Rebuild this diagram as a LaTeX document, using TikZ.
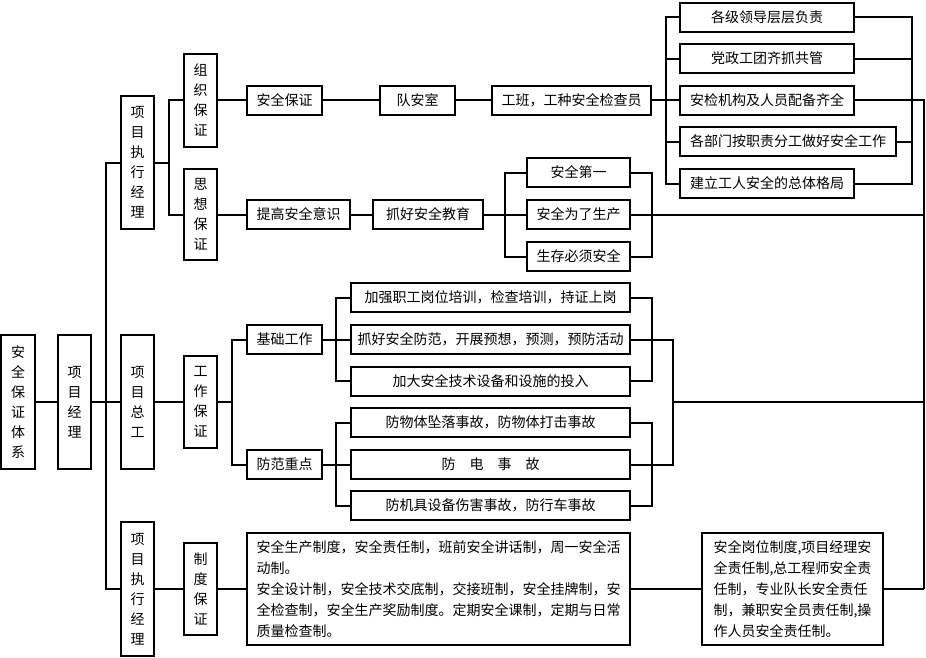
\documentclass[tikz,border=0pt]{standalone}
\usepackage{fontspec}
\setmainfont{Noto Sans CJK SC}
\begin{document}
\begin{tikzpicture}[x=1pt,y=-1pt,line width=2pt,
  every node/.style={draw,line width=2pt,inner sep=0pt,font=\fontsize{14}{20}\selectfont},
  hbox/.style={minimum height=29},
  vbox/.style={minimum width=33,align=center},
  tbox/.style={align=left,font=\fontsize{14}{21}\selectfont}]
\useasboundingbox (0,0) rectangle (926,657);
% left column
\node[vbox,minimum width=34,minimum height=134] (sys) at (18,402) {安\\全\\保\\证\\体\\系};
\node[vbox,minimum height=134] (pm) at (74.5,402) {项\\目\\经\\理};
\node[vbox,minimum height=133] (ce1) at (137.5,162.5) {项\\目\\执\\行\\经\\理};
\node[vbox,minimum height=134] (ce2) at (137.5,402) {项\\目\\总\\工};
\node[vbox,minimum height=134] (ce3) at (137.5,589) {项\\目\\执\\行\\经\\理};
\node[vbox,minimum height=93] (zz) at (200.5,100) {组\\织\\保\\证};
\node[vbox,minimum height=91] (sx) at (200.5,214.5) {思\\想\\保\\证};
\node[vbox,minimum height=92] (gz) at (200.5,402) {工\\作\\保\\证};
\node[vbox,minimum height=92] (zd) at (200.5,589) {制\\度\\保\\证};
% organisation row
\node[hbox,minimum width=75] (aqbz) at (284.5,100) {安全保证};
\node[hbox,minimum width=75] (das) at (417.5,100) {队安室};
\node[hbox,minimum width=159] (gb) at (571.5,100) {工班，工种安全检查员};
\node[hbox,minimum width=174] (r1) at (767,17) {各级领导层层负责};
\node[hbox,minimum width=174] (r2) at (767,58.5) {党政工团齐抓共管};
\node[hbox,minimum width=174] (r3) at (767,100) {安检机构及人员配备齐全};
\node[hbox,minimum width=216] (r4) at (788,141.5) {各部门按职责分工做好安全工作};
\node[hbox,minimum width=174] (r5) at (767,183.5) {建立工人安全的总体格局};
% thought row
\node[hbox,minimum width=103] (tg) at (298.5,214.5) {提高安全意识};
\node[hbox,minimum width=110] (jy) at (428,214.5) {抓好安全教育};
\node[hbox,minimum width=103] (s1) at (578.5,172.5) {安全第一};
\node[hbox,minimum width=103] (s2) at (578.5,214.5) {安全为了生产};
\node[hbox,minimum width=103] (s3) at (578.5,256.5) {生存必须安全};
% work row
\node[hbox,minimum width=75] (jc) at (284.5,339.5) {基础工作};
\node[hbox,minimum width=75] (ff) at (284.5,464.5) {防范重点};
\node[hbox,minimum width=279] (k1) at (490.5,297.5) {加强职工岗位培训，检查培训，持证上岗};
\node[hbox,minimum width=279] (k2) at (490.5,339.5) {抓好安全防范，开展预想，预测，预防活动};
\node[hbox,minimum width=279] (k3) at (490.5,381) {加大安全技术设备和设施的投入};
\node[hbox,minimum width=279] (k4) at (490.5,422.5) {防物体坠落事故，防物体打击事故};
\node[hbox,minimum width=279] (k5) at (490.5,464.5) {防\hspace{1em}电\hspace{1em}事\hspace{1em}故};
\node[hbox,minimum width=279] (k6) at (490.5,505.5) {防机具设备伤害事故，防行车事故};
% system row
\node[tbox,minimum width=383,minimum height=112] (big) at (438.5,589) {安全生产制度，安全责任制，班前安全讲话制，周一安全活\\动制。\\安全设计制，安全技术交底制，交接班制，安全挂牌制，安\\全检查制，安全生产奖励制度。定期安全课制，定期与日常\\质量检查制。};
\node[tbox,minimum width=181,minimum height=112] (rb) at (792.5,589) {安全岗位制度,项目经理安\\全责任制,总工程师安全责\\任制，专业队长安全责任\\制，兼职安全员责任制,操\\作人员安全责任制。};
% coordinates
\coordinate (fr1) at (924,100);
\coordinate (fr2) at (924,214.5);
\coordinate (fr3) at (924,402);
\coordinate (fr4) at (924,589);
\coordinate (m) at (673,402);
% connectors
\draw (sys.east) -- (pm.west);
\draw (pm.east) -- (ce2.west);
\draw (ce1.west) -- ++(-14,0) |- (ce3.west);
\draw (ce1.east) -- ++(14,0);
\draw (zz.west) -- ++(-14,0) |- (sx.west);
\draw (ce2.east) -- (gz.west);
\draw (ce3.east) -- (zd.west);
\draw (zd.east) -- (big.west);
\draw (big.east) -- (rb.west);
\draw (rb.east) -- (fr4);
\draw (zz.east) -- (aqbz.west);
\draw (aqbz.east) -- (das.west);
\draw (das.east) -- (gb.west);
\draw (gb.east) -- (r3.west);
\draw (r1.west) -- ++(-13,0) |- (r5.west);
\draw (r2.west) -- ++(-13,0);
\draw (r4.west) -- ++(-13,0);
\draw (r1.east) -- ++(57,0) |- (r5.east);
\draw (r2.east) -- ++(57,0);
\draw (r4.east) -- ++(15,0);
\draw (r3.east) -- (fr1) -- (fr4);
\draw (sx.east) -- (tg.west);
\draw (tg.east) -- (jy.west);
\draw (jy.east) -- (s2.west);
\draw (s1.west) -- ++(-21,0) |- (s3.west);
\draw (s1.east) -- ++(21,0) |- (s3.east);
\draw (s2.east) -- (fr2);
\draw (gz.east) -- ++(15,0);
\draw (jc.west) -- ++(-14,0) |- (ff.west);
\draw (jc.east) -- (k2.west);
\draw (ff.east) -- (k5.west);
\draw (k1.west) -- ++(-14,0) |- (k3.west);
\draw (k4.west) -- ++(-14,0) |- (k6.west);
\draw (k1.east) -- ++(21,0) |- (k3.east);
\draw (k4.east) -- ++(21,0) |- (k6.east);
\draw (k2.east) -- ++(42,0) |- (k5.east);
\draw (m) -- (fr3);
\end{tikzpicture}
\end{document}
